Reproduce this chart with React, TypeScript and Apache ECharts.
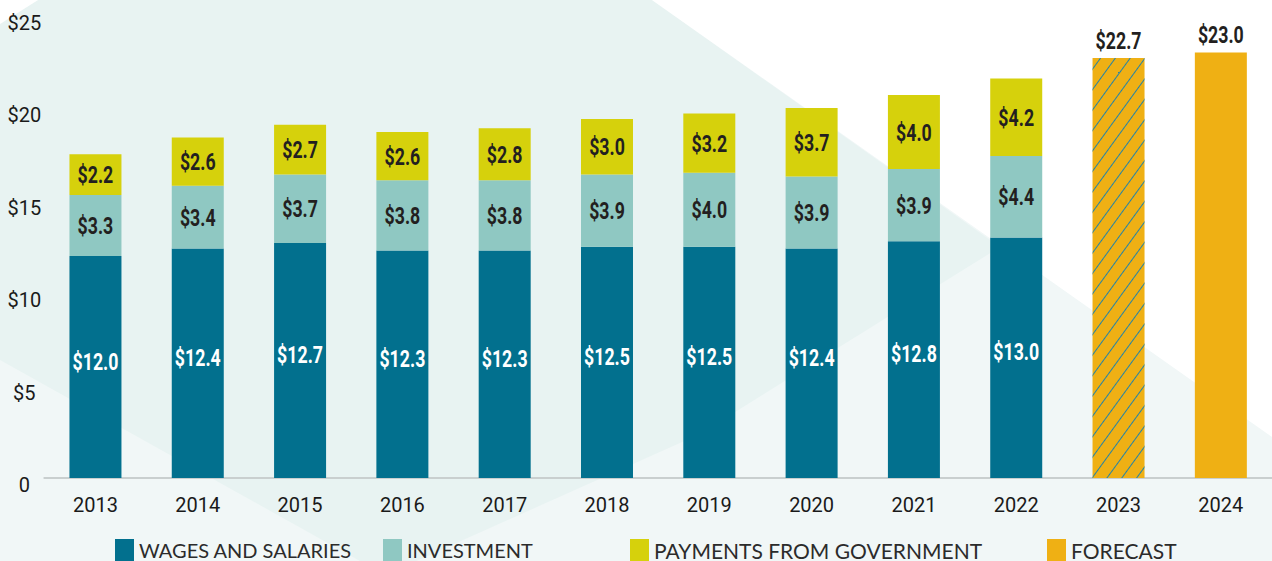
import React, { useEffect, useRef } from "react";
import * as echarts from "echarts";

const years = ["2013", "2014", "2015", "2016", "2017", "2018", "2019", "2020", "2021", "2022", "2023", "2024"];
const wages = [12.0, 12.4, 12.7, 12.3, 12.3, 12.5, 12.5, 12.4, 12.8, 13.0, null, null];
const investment = [3.3, 3.4, 3.7, 3.8, 3.8, 3.9, 4.0, 3.9, 3.9, 4.4, null, null];
const payments = [2.2, 2.6, 2.7, 2.6, 2.8, 3.0, 3.2, 3.7, 4.0, 4.2, null, null];
const forecast = [null, null, null, null, null, null, null, null, null, null, 22.7, 23.0];
const hatchedYear = "2023";
const yTicks = [0, 5, 10, 15, 20, 25];

const AXIS_FONT = "Roboto, 'Liberation Sans', sans-serif";
const LEGEND_FONT = "Lato, 'Open Sans', sans-serif";

const C_WAGES = "#02708e";
const C_INV = "#8fc8c2";
const C_PAY = "#d6d10c";
const C_FC = "#efb014";

const fmt = (v: number) => "$" + v.toFixed(1);

// label rows: [category index, base, value, kind]  kind: 0 wages, 1 investment, 2 payments, 3 forecast
function buildLabelRows() {
  const rows: number[][] = [];
  years.forEach((_, i) => {
    if (wages[i] != null) rows.push([i, 0, wages[i] as number, 0]);
    if (investment[i] != null) rows.push([i, wages[i] as number, investment[i] as number, 1]);
    if (payments[i] != null)
      rows.push([i, (wages[i] as number) + (investment[i] as number), payments[i] as number, 2]);
    if (forecast[i] != null) rows.push([i, 0, forecast[i] as number, 3]);
  });
  return rows;
}

export default function App() {
  const ref = useRef<HTMLDivElement>(null);
  useEffect(() => {
    if (!ref.current) return;
    const chart = echarts.init(ref.current, null, { renderer: "svg" });
    const legendCommon = (size: number) => ({
      top: 539,
      padding: 0,
      itemWidth: 19,
      itemHeight: 22,
      itemGap: 0,
      icon: "rect",
      textStyle: { fontFamily: LEGEND_FONT, fontSize: size, color: "#2b2b2b", lineHeight: 22 },
      selectedMode: false,
    });
    const labelRows = buildLabelRows();
    chart.setOption({
      animation: false,
      backgroundColor: "#f1f7f7",
      graphic: [
        { type: "polygon", z: -10, silent: true, shape: { points: [[38, 0], [652, 0], [1000, 247], [700, 434], [385, 575], [0, 360], [0, 24]] }, style: { fill: "#e8f3f2" } },
        { type: "polygon", z: -10, silent: true, shape: { points: [[0, 0], [38, 0], [0, 24]] }, style: { fill: "#ffffff" } },
        { type: "polygon", z: -10, silent: true, shape: { points: [[652, 0], [1272, 0], [1272, 437]] }, style: { fill: "#ffffff" } },
      ],
      legend: [
        { ...legendCommon(20), left: 115, data: ["WAGES AND SALARIES"] },
        { ...legendCommon(20), left: 383, data: ["INVESTMENT"] },
        { ...legendCommon(21), left: 630, data: ["PAYMENTS FROM GOVERNMENT"] },
        { ...legendCommon(21), left: 1047, data: ["FORECAST"] },
      ],
      grid: { left: 44.3, right: -12.7, top: 15.5, bottom: 83, containLabel: false },
      xAxis: {
        type: "category",
        data: years,
        axisLine: { show: true, lineStyle: { color: "#c9cfcf", width: 2 } },
        axisTick: { show: false },
        axisLabel: { fontFamily: AXIS_FONT, fontSize: 20, color: "#1a1a1a", margin: 17 },
      },
      yAxis: {
        type: "value",
        min: 0,
        max: 25,
        interval: 5,
        splitLine: { show: false },
        axisLine: { show: false },
        axisTick: { show: false },
        axisLabel: {
          fontFamily: AXIS_FONT,
          fontSize: 20,
          color: "#1a1a1a",
          align: "center",
          verticalAlign: "top",
          lineHeight: 14,
          margin: 20,
          formatter: (v: number) => (yTicks.includes(v) ? (v === 0 ? "0" : "$" + v) : ""),
        },
      },
      series: [
        {
          name: "WAGES AND SALARIES",
          type: "bar",
          stack: "total",
          barWidth: 52,
          data: wages,
          itemStyle: { color: C_WAGES },
        },
        {
          name: "INVESTMENT",
          type: "bar",
          stack: "total",
          barWidth: 52,
          data: investment,
          itemStyle: { color: C_INV },
        },
        {
          name: "PAYMENTS FROM GOVERNMENT",
          type: "bar",
          stack: "total",
          barWidth: 52,
          data: payments,
          itemStyle: { color: C_PAY },
        },
        {
          name: "FORECAST",
          type: "bar",
          stack: "total",
          barWidth: 52,
          data: forecast.map((v, i) =>
            years[i] === hatchedYear
              ? {
                  value: v,
                  itemStyle: {
                    color: C_FC,
                    decal: {
                      symbol: "rect",
                      symbolSize: 1,
                      color: "#2383a6",
                      dashArrayX: [1, 0],
                      dashArrayY: [1, 11],
                      rotation: -Math.PI * 0.3,
                    },
                  },
                }
              : v
          ),
          itemStyle: { color: C_FC },
        },
        {
          name: "labels",
          type: "custom",
          z: 5,
          silent: true,
          data: labelRows,
          encode: { x: 0, y: 2 },
          renderItem: (params: any, api: any) => {
            const i = api.value(0);
            const base = api.value(1);
            const v = api.value(2);
            const kind = api.value(3);
            let pt;
            let vAlign = "middle";
            let dy = 0;
            if (kind === 3) {
              pt = api.coord([i, base + v]);
              vAlign = "bottom";
              dy = -6;
            } else {
              pt = api.coord([i, base + v / 2]);
              if (kind === 0) dy = -6;
            }
            return {
              type: "text",
              x: pt[0],
              y: pt[1] + dy,
              scaleX: 0.74,
              style: {
                text: fmt(v),
                fill: kind === 0 ? "#ffffff" : "#231f20",
                font: "bold 24px Roboto, sans-serif",
                align: "center",
                verticalAlign: vAlign,
              },
            };
          },
        },
      ],
    });
    return () => chart.dispose();
  }, []);
  return <div ref={ref} style={{ position: "fixed", left: 0, top: 0, width: 1272, height: 561 }} />;
}
